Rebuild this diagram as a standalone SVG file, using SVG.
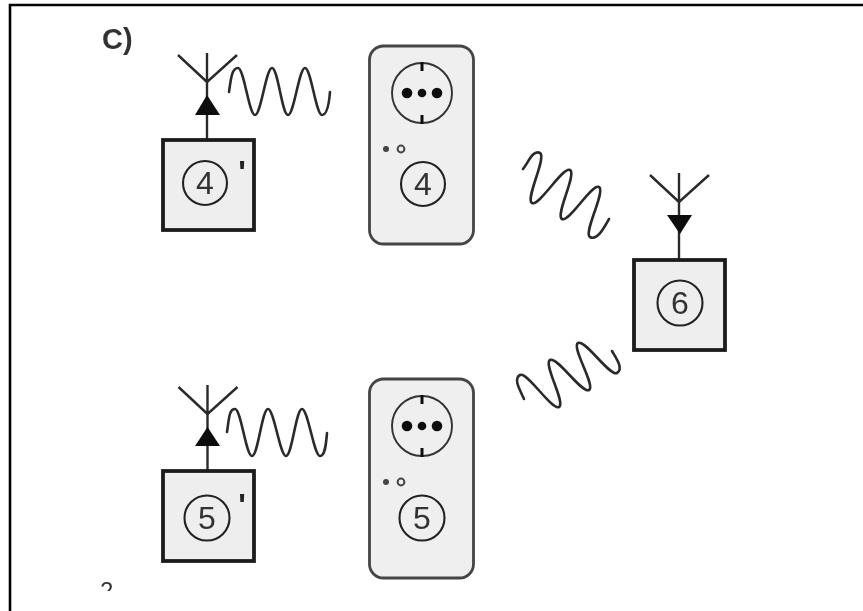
<svg xmlns="http://www.w3.org/2000/svg" width="863" height="611" viewBox="0 0 863 611">
<style>
text{font-family:"Liberation Sans",Arial,sans-serif;fill:#333}
.box{fill:#eeeeee;stroke:#1c1c1c;stroke-width:3.8}
.sock{fill:#efefef;stroke:#444;stroke-width:2.8}
.num{font-size:32px;text-anchor:middle}
.ring{fill:none;stroke:#222;stroke-width:2.1}
.ant{fill:none;stroke:#2a2a2a;stroke-width:2.4}
.wave{fill:none;stroke:#2a2a2a;stroke-width:2.6;stroke-linecap:round;stroke-linejoin:round}
.tri{fill:#111}
.face{fill:none;stroke:#333;stroke-width:1.9}
.tick{stroke:#111;stroke-width:3}
.pin{fill:#111}
.led{fill:#444}
.ledr{fill:none;stroke:#444;stroke-width:2}
.prime{font-size:32px;font-weight:bold;text-anchor:middle;fill:#222}
</style>
<defs>
<filter id="soft" x="-2%" y="-2%" width="104%" height="104%"><feGaussianBlur stdDeviation="0.5"/></filter>
<clipPath id="cut"><rect x="90" y="570" width="40" height="21"/></clipPath>
<g id="antenna"><path class="ant" d="M0 0V29M-29 2L0 29L30 2"/></g>
<g id="outlet">
<circle class="face" cx="0" cy="0" r="30"/>
<line class="tick" x1="0" y1="-31" x2="0" y2="-22"/>
<line class="tick" x1="0" y1="22" x2="0" y2="31"/>
<circle class="pin" cx="-15" cy="0" r="5.300"/>
<circle class="pin" cx="0" cy="0" r="4.300"/>
<circle class="pin" cx="15" cy="0" r="5.300"/>
<circle class="led" cx="-36" cy="56" r="3"/>
<circle class="ledr" cx="-21" cy="56" r="3.400"/>
</g>
</defs>
<g id="frame"><path d="M10 611V5H863" fill="none" stroke="#000" stroke-width="2.6"/></g>
<g filter="url(#soft)">
<text id="label-c" x="102" y="49" font-size="29" font-weight="bold">C)</text>
<text id="label-cut" x="100" y="599" font-size="24" clip-path="url(#cut)">2</text>
<g id="connectors">
<path class="wave" d="M229 92C231 78 232 68 238 68C244 68 249 115 255 115C261 115 266 68 272 68C278 68 282 115 288 115C294 115 299 68 305 68C311 68 316 115 322 115C327 115 329 104 330 92"/>
<path class="wave" d="M523 169C528 163 533 149 540 153C547 157 525 199 532 203C539 207 563 166 570 170C577 174 555 215 562 219C569 223 592 183 599 187C606 191 583 233 590 237C597 241 604 228 609 219"/>
<path class="wave" d="M524 399C520 390 513 379 520 375C527 371 552 411 559 407C566 403 543 364 550 360C557 356 582 394 589 390C596 386 571 347 578 343C585 339 610 377 617 373C624 369 616 358 612 351"/>
<path class="wave" d="M227 432C229 419 229 409 235 409C241 409 246 456 252 456C258 456 262 409 268 409C274 409 280 456 286 456C292 456 296 409 302 409C308 409 314 456 320 456C325 456 326 445 327 433"/>
</g>
<g id="node-4prime">
<use href="#antenna" x="207" y="53"/>
<line class="ant" x1="207" y1="82" x2="207" y2="140"/>
<polygon class="tri" points="207,95 220,115 195,115"/>
<rect class="box" x="163" y="140" width="91" height="90"/>
<circle class="ring" cx="205" cy="183" r="22"/>
<text class="num" x="205" y="194">4</text>
<text class="prime" x="242" y="183">'</text>
</g>
<g id="node-4">
<rect class="sock" x="369.500" y="46" width="104" height="198" rx="14"/>
<use href="#outlet" x="422" y="93"/>
<circle class="ring" cx="423" cy="184" r="22"/>
<text class="num" x="423" y="195">4</text>
</g>
<g id="node-6">
<use href="#antenna" x="679" y="173"/>
<line class="ant" x1="679" y1="202" x2="679" y2="260"/>
<polygon class="tri" points="667,215 692,215 680,234"/>
<rect class="box" x="634" y="260" width="91" height="90"/>
<circle class="ring" cx="680" cy="303" r="22.500"/>
<text class="num" x="680" y="314">6</text>
</g>
<g id="node-5prime">
<use href="#antenna" x="207.500" y="385"/>
<line class="ant" x1="207.500" y1="414" x2="207.500" y2="471"/>
<polygon class="tri" points="207.500,427 220,446 195,446"/>
<rect class="box" x="163" y="471" width="91" height="90"/>
<circle class="ring" cx="207" cy="518" r="22.500"/>
<text class="num" x="207" y="529">5</text>
<text class="prime" x="242" y="516">'</text>
</g>
<g id="node-5">
<rect class="sock" x="369.500" y="379" width="104" height="199" rx="14"/>
<use href="#outlet" x="422" y="426"/>
<circle class="ring" cx="422" cy="518" r="22.500"/>
<text class="num" x="422" y="529">5</text>
</g>
</g>
</svg>
